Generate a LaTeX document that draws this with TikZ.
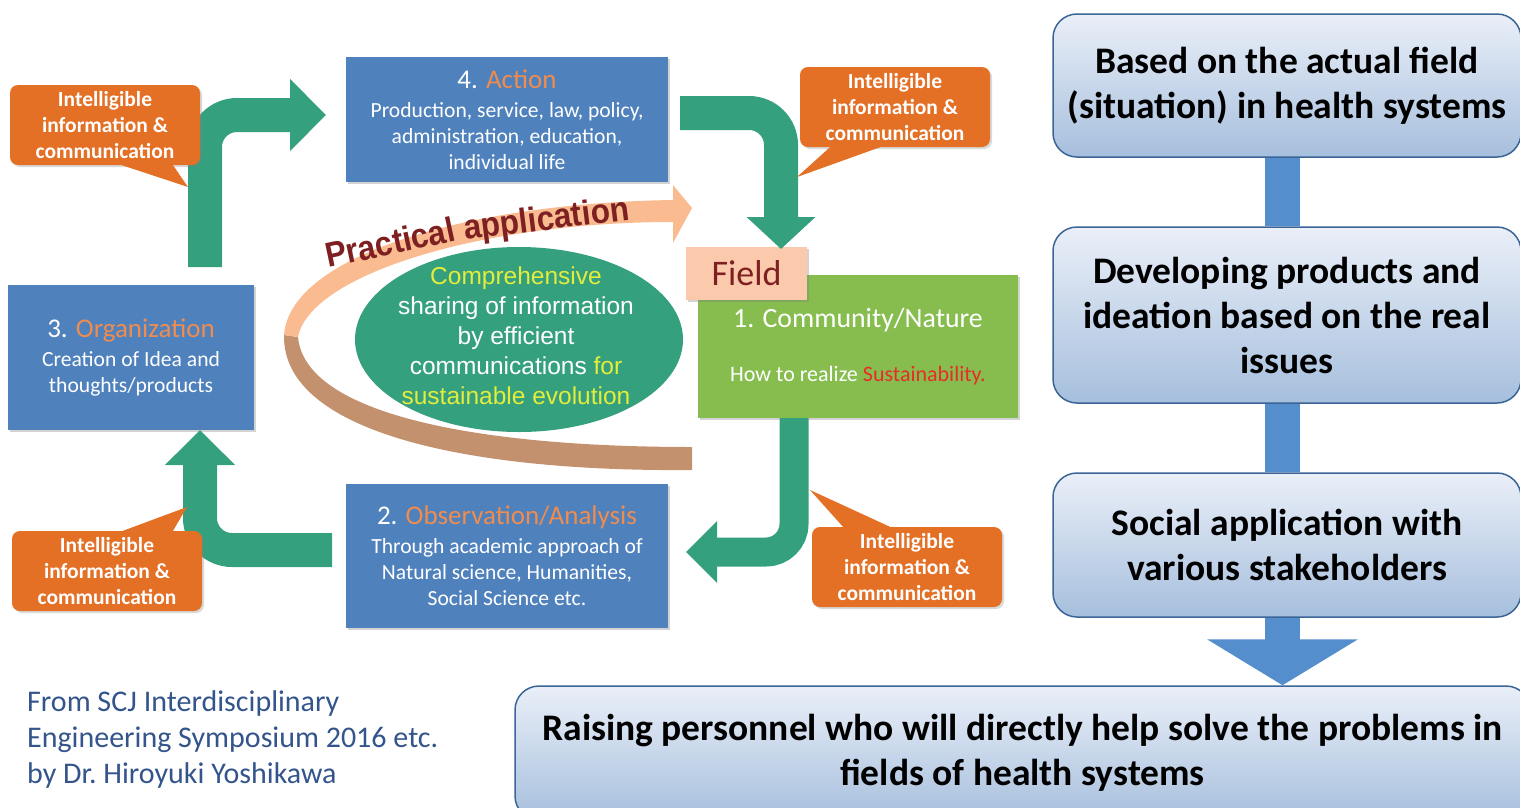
\documentclass[tikz,border=0pt]{standalone}
\usepackage{fontspec}
\setmainfont{Carlito}
\newfontfamily\arialfont{Liberation Sans}
\usepackage{tikz}
\usetikzlibrary{arrows.meta,shapes.geometric,shadows}

\definecolor{boxblue}{RGB}{79,129,189}
\definecolor{titleorange}{RGB}{240,140,78}
\definecolor{infoorange}{RGB}{228,112,38}
\definecolor{flowgreen}{RGB}{52,160,126}
\definecolor{fieldgreen}{RGB}{134,189,78}
\definecolor{fieldpeach}{RGB}{251,202,173}
\definecolor{darkred}{RGB}{126,31,34}
\definecolor{ribbonpeach}{RGB}{249,187,143}
\definecolor{ribbonbrown}{RGB}{196,145,111}
\definecolor{shareyellow}{RGB}{228,236,60}
\definecolor{sustred}{RGB}{232,44,40}
\definecolor{stepborder}{RGB}{59,101,150}
\definecolor{steptop}{RGB}{234,239,248}
\definecolor{stepbottom}{RGB}{166,191,221}
\definecolor{barblue}{RGB}{84,142,204}
\definecolor{footblue}{RGB}{52,84,140}

\begin{document}
\begin{tikzpicture}[x=1pt,y=-1pt]
		\useasboundingbox (0,0) rectangle (1520,807);
		
		% ribbon behind the ellipse
		\fill[ribbonbrown] (298,337) .. controls (305,415) and (480,447) .. (692,447) -- (692,470) .. controls (460,472) and (282,430) .. (284,335) -- cycle;
		\fill[ribbonpeach] (673,222) -- (673,243) -- (692,208) -- (673,185) -- (673,200) .. controls (470,203) and (290,255) .. (284,335) -- (298,337) .. controls (310,275) and (480,222) .. (673,222) -- cycle;
		
		\node[ellipse, fill=flowgreen, minimum width=328pt, minimum height=185pt, inner sep=0pt] (share) at (519,339.5) {};
		\node[align=center, inner sep=0pt, text=white, font=\arialfont\fontsize{24.5}{30}\selectfont] (sharetext) at (516,336) {\textcolor{shareyellow}{Comprehensive}\\sharing of information\\by efficient\\communications \textcolor{shareyellow}{for}\\\textcolor{shareyellow}{sustainable evolution}};
		
		\begin{scope}[every node/.style={anchor=base west, text=darkred, inner sep=0pt, font=\arialfont\bfseries\fontsize{31.5}{31.5}\selectfont}]
			\node[rotate=12] (practical) at (328,268) {\scalebox{1}[1.1]{Practical}};
			\node[rotate=7] (application) at (465,240) {\scalebox{1}[1.1]{application}};
		\end{scope}
		
		\begin{scope}[every node/.style={fill=boxblue, text=white, align=center, inner sep=0pt, drop shadow={opacity=0.35,shadow xshift=2pt,shadow yshift=-2pt}, font=\fontsize{21.6}{26}\selectfont}]
			\node[minimum width=322pt, minimum height=125pt] (act) at (507,119.5) {{\fontsize{27}{30}\selectfont 4. \textcolor{titleorange}{Action}}\\[3pt]Production, service, law, policy,\\administration, education,\\individual life};
			\node[minimum width=246pt, minimum height=145pt] (org) at (131,357.5) {{\fontsize{27}{30}\selectfont 3. \textcolor{titleorange}{Organization}}\\[3pt]Creation of Idea and\\thoughts/products};
			\node[minimum width=322pt, minimum height=144pt] (obs) at (507,556) {{\fontsize{27}{30}\selectfont 2. \textcolor{titleorange}{Observation/Analysis}}\\[3pt]Through academic approach of\\Natural science, Humanities,\\Social Science etc.};
			\node[fill=fieldgreen, minimum width=320pt, minimum height=143pt] (comm) at (858,346.5) {{\fontsize{27.8}{30}\selectfont 1. Community/Nature}\\[28pt]{\fontsize{22}{26}\selectfont How to realize \textcolor{sustred}{Sustainability.}}};
			\node[fill=fieldpeach, text=darkred, minimum width=121pt, minimum height=53pt, font=\fontsize{36}{36}\selectfont] (field) at (746.5,273.5) {Field};
		\end{scope}
		
		\coordinate (obsOut) at (332,550);
		\coordinate (orgIn) at (200,430);
		\coordinate (orgOut) at (205,267);
		\coordinate (actIn) at (326,115);
		\coordinate (actOut) at (680,113);
		\coordinate (fieldIn) at (781,249);
		\coordinate (commOut) at (794,418);
		\coordinate (obsIn) at (686,552);
		
		\begin{scope}[every path/.style={draw=flowgreen, line width=34pt, rounded corners=32pt}]
			\draw[-{Triangle[length=35pt,width=68pt]}] (obsOut) -| (orgIn);
			\draw[-{Triangle[length=36pt,width=70pt]}] (orgOut) |- (actIn);
			\draw[-{Triangle[length=32pt,width=67pt]}] (actOut) -| (fieldIn);
			\draw[line width=29pt, rounded corners=28pt, -{Triangle[length=31pt,width=60pt]}] (commOut) |- (obsIn);
		\end{scope}
		
		\begin{scope}[every node/.style={fill=infoorange, rounded corners=8pt, text=white, align=center, minimum width=190pt, minimum height=80pt, inner sep=0pt, drop shadow={opacity=0.3,shadow xshift=2pt,shadow yshift=-2pt}, font=\bfseries\fontsize{21.5}{26}\selectfont}]
			\node (info1) at (105,125) {Intelligible\\information \&\\communication};
			\node (info2) at (895,107) {Intelligible\\information \&\\communication};
			\node (info3) at (107,571) {Intelligible\\information \&\\communication};
			\node (info4) at (907,567) {Intelligible\\information \&\\communication};
		\end{scope}
		
		\coordinate (tip1) at (188,187);
		\coordinate (tip2) at (797,177);
		\coordinate (tip3) at (187,507);
		\coordinate (tip4) at (810,490);
		\fill[infoorange] ([xshift=17pt]info1.south) -- ([xshift=68pt]info1.south) -- (tip1) -- cycle;
		\fill[infoorange] ([xshift=-65pt]info2.south) -- ([xshift=-15pt]info2.south) -- (tip2) -- cycle;
		\fill[infoorange] ([xshift=16pt]info3.north) -- ([xshift=66pt]info3.north) -- (tip3) -- cycle;
		\fill[infoorange] ([xshift=-64pt]info4.north) -- ([xshift=-17pt]info4.north) -- (tip4) -- cycle;
		
		% steps on the right
		\begin{scope}[every node/.style={rounded corners=24pt, draw=stepborder, line width=1.5pt, top color=steptop, bottom color=stepbottom, align=center, inner sep=0pt, font=\bfseries\fontsize{37.5}{45}\selectfont}]
			\node[minimum width=468pt, minimum height=143pt] (s1) at (1287,85.5) {Based on the actual field\\(situation) in health systems};
			\node[minimum width=468pt, minimum height=176pt] (s2) at (1287,315) {Developing products and\\ideation based on the real\\issues};
			\node[minimum width=468pt, minimum height=144pt] (s3) at (1287,545) {Social application with\\various stakeholders};
			\node[minimum width=1015pt, minimum height=134pt] (s4) at (1022.5,753) {Raising personnel who will directly help solve the problems in\\fields of  health systems};
		\end{scope}
		
		\coordinate (s4in) at ([xshift=-4.5pt]s3.south |- s4.north);
		\begin{scope}[every path/.style={draw=barblue, line width=35pt}]
			\draw ([xshift=-4.5pt]s1.south) -- ([xshift=-4.5pt]s2.north);
			\draw ([xshift=-4.5pt]s2.south) -- ([xshift=-4.5pt]s3.north);
			\draw[-{Triangle[length=46pt,width=149pt]}] ([xshift=-4.5pt]s3.south) -- (s4in);
		\end{scope}
		
		\node[anchor=west, align=left, inner sep=0pt, text=footblue, font=\fontsize{30}{36}\selectfont] (credit) at (27,739) {From SCJ Interdisciplinary\\Engineering Symposium 2016 etc.\\by Dr.\ Hiroyuki Yoshikawa};
	\end{tikzpicture}
\end{document}
